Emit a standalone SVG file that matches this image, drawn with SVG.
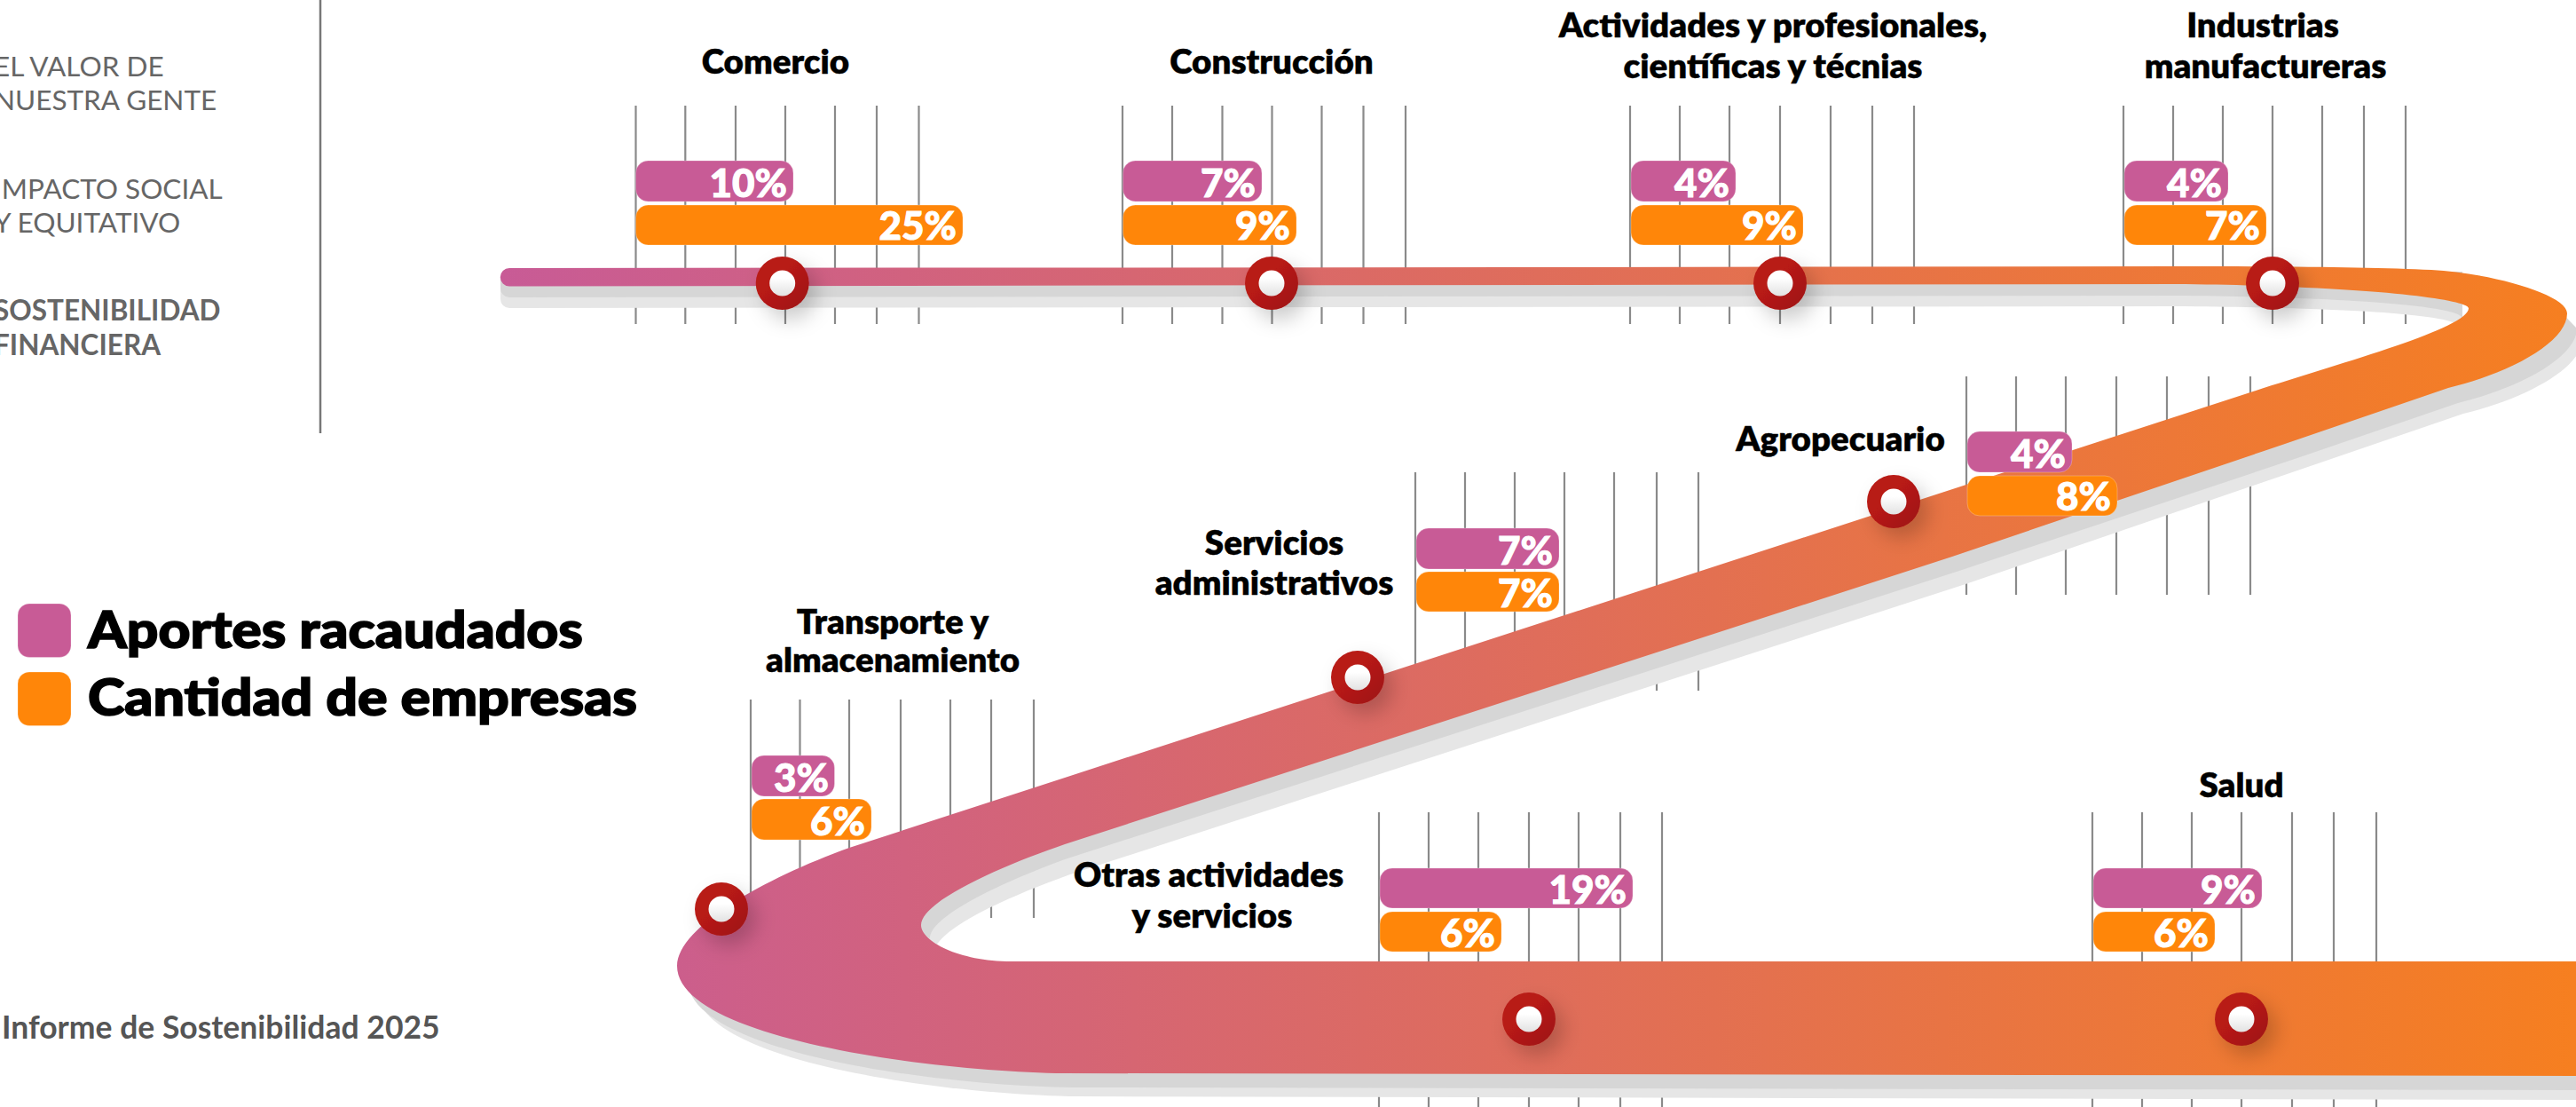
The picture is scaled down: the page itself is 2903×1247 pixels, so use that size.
<svg xmlns="http://www.w3.org/2000/svg" width="2903" height="1247" viewBox="0 0 2903 1247">
<style>
text{font-family:"Lato","Liberation Sans",sans-serif}
.tick{fill:none;stroke:#8a8a8a;stroke-width:2.2}
.p{fill:#c85b96;stroke:#fff;stroke-opacity:.25;stroke-width:1}
.o{fill:#ff8609;stroke:#fff;stroke-opacity:.25;stroke-width:1}
.v{font-size:44px;font-weight:900;fill:#fff;stroke:#fff;stroke-width:1;text-anchor:end}
.t{font-size:38.500px;font-weight:800;fill:#000;stroke:#000;stroke-width:.4;text-anchor:middle}
.s{font-size:31.500px;fill:#666}
.d{fill:#d6d6d6}
.l{fill:#e6e6e6}
.mo{fill:url(#mo);filter:url(#sh)}
.mi{fill:url(#mi)}
.lg{font-size:57px;font-weight:900;fill:#000;stroke:#000;stroke-width:1.6}
</style>
<defs>
<linearGradient id="band" gradientUnits="userSpaceOnUse" x1="564" y1="0" x2="2903" y2="0"><stop offset="0" stop-color="#c85b96"/><stop offset="1" stop-color="#f67f20"/></linearGradient>
<linearGradient id="mo" x1="0" y1="0" x2="1" y2="1"><stop offset=".4" stop-color="#b81a17"/><stop offset="1" stop-color="#9c1512"/></linearGradient>
<linearGradient id="mi" x1="0" y1="0" x2="0" y2="1"><stop offset=".3" stop-color="#fff"/><stop offset="1" stop-color="#e2e2e2"/></linearGradient>
<filter id="sh" x="-60%" y="-60%" width="240%" height="240%"><feDropShadow dx="9" dy="11" stdDeviation="11" flood-color="#000" flood-opacity=".2"/></filter>
</defs>
<rect width="2903" height="1247" fill="#fff"/>
<g id="sidebar">
<path d="M361 0V488" fill="none" stroke="#777" stroke-width="2.5"/>
<text class="s" x="-7" y="86">EL VALOR DE</text>
<text class="s" x="-7" y="124">NUESTRA GENTE</text>
<text class="s" x="-7" y="224">IMPACTO SOCIAL</text>
<text class="s" x="-7" y="262">Y EQUITATIVO</text>
<text class="s" x="-7" y="361" font-weight="700">SOSTENIBILIDAD</text>
<text class="s" x="-7" y="400" font-weight="700">FINANCIERA</text>
</g>
<g id="legend">
<rect x="20" y="680" width="60" height="60.500" rx="13" class="p"/>
<text class="lg" x="99" y="730" textLength="558" lengthAdjust="spacingAndGlyphs">Aportes racaudados</text>
<rect x="20" y="757" width="60" height="60.500" rx="13" class="o"/>
<text class="lg" x="99" y="806" textLength="619" lengthAdjust="spacingAndGlyphs">Cantidad de empresas</text>
</g>
<text id="footer" x="2" y="1170" font-size="35.500" font-weight="700" fill="#555">Informe de Sostenibilidad 2025</text>
<g id="ticks">
<path class="tick" d="M716.500 119V365M772.300 119V365M829 119V365M885 119V365M941 119V365M988 119V365M1035.500 119V365"/>
<path class="tick" d="M1265 119V365M1321 119V365M1377.500 119V365M1433.500 119V365M1489.500 119V365M1536.500 119V365M1584 119V365"/>
<path class="tick" d="M1837 119V365M1893 119V365M1949 119V365M2006 119V365M2063 119V365M2110 119V365M2157 119V365"/>
<path class="tick" d="M2393 119V365M2449 119V365M2505 119V365M2561 119V365M2617 119V365M2664 119V365M2711 119V365"/>
<path class="tick" d="M2216 424V670M2272 424V670M2328 424V670M2385 424V670M2442 424V670M2489 424V670M2536 424V670"/>
<path class="tick" d="M1595 532V778M1651 532V778M1707 532V778M1763 532V778M1819 532V778M1867 532V778M1914 532V778"/>
<path class="tick" d="M846 788V1034M901.500 788V1034M957 788V1034M1015 788V1034M1071 788V1034M1117 788V1034M1165 788V1034"/>
<path class="tick" d="M1554 915V1247M1610 915V1247M1666 915V1247M1723 915V1247M1779 915V1247M1826 915V1247M1873 915V1247"/>
<path class="tick" d="M2358 915V1247M2414 915V1247M2470 915V1247M2526 915V1247M2583 915V1247M2630 915V1247M2678 915V1247"/>
</g>
<g id="connectors">
<path class="l" d="M574 310H2775V370C2772 356 2680 347 2450 345L574 347A10 10 0 0 1 564 337V320A10 10 0 0 1 574 310Z"/>
<path class="l" d="M2880 345L2910 382C2910 414 2847 449 2776 466L2592 529L2215 658L1215 982C1145 1006 1053 1046 1053 1073L1020 1040L1100 960L2800 380Z"/>
<path class="l" d="M790 1110H2903V1239L1215 1235C1065 1233 785 1196 785 1114Z"/>
<path class="d" d="M574 306H2775V358C2772 347 2680 335 2450 333L574 335A10 10 0 0 1 564 325V316A10 10 0 0 1 574 306Z"/>
<path class="d" d="M2880 345L2904 370C2904 402 2841 437 2770 454L2586 517L2211 642L1200 968C1140 990 1048 1030 1048 1057L1020 1040L1100 960L2800 380Z"/>
<path class="d" d="M790 1100H2903V1228L1208 1225C1058 1223 775 1186 775 1104Z"/>
<path id="road" fill="url(#band)" d="M574 302L1700 301L2450 300C2580 300 2680 301 2740 304C2810 308 2893 332 2893 353C2893 385 2830 420 2759 437L2575 500L2200 627L1200 951C1130 975 1038 1015 1038 1042C1038 1060 1080 1083 1140 1083H2903V1212L1200 1209C1050 1207 763 1170 763 1088C763 1045 860 990 957 955L1200 876L2536 442C2640 408 2782 370 2782 347C2782 338 2680 322 2450 320L574 322.500A10 10 0 0 1 574 302Z"/>
</g>
<g id="comercio">
<text class="t" x="874" y="83">Comercio</text>
<rect class="p" x="716.500" y="181" width="177.500" height="46" rx="14"/><rect class="o" x="716.500" y="231" width="368.500" height="45" rx="14"/>
<text class="v" x="887" y="222">10%</text><text class="v" x="1078" y="270">25%</text>
<circle class="mo" cx="881.700" cy="319" r="30"/><circle class="mi" cx="881.700" cy="319" r="14.500"/>
</g>
<g id="construccion">
<text class="t" x="1433" y="83">Construcción</text>
<rect class="p" x="1265.500" y="181" width="156.500" height="46" rx="14"/><rect class="o" x="1265.500" y="231" width="195.500" height="45" rx="14"/>
<text class="v" x="1415" y="222">7%</text><text class="v" x="1454" y="270">9%</text>
<circle class="mo" cx="1433" cy="319" r="30"/><circle class="mi" cx="1433" cy="319" r="14.500"/>
</g>
<g id="actividades">
<text class="t" x="1998" y="42">Actividades y profesionales,</text><text class="t" x="1998" y="88">científicas y técnias</text>
<rect class="p" x="1838" y="181" width="118" height="46" rx="14"/><rect class="o" x="1838" y="231" width="194" height="45" rx="14"/>
<text class="v" x="1949" y="222">4%</text><text class="v" x="2025" y="270">9%</text>
<circle class="mo" cx="2006" cy="319" r="30"/><circle class="mi" cx="2006" cy="319" r="14.500"/>
</g>
<g id="industrias">
<text class="t" x="2550" y="42">Industrias</text><text class="t" x="2553" y="88">manufactureras</text>
<rect class="p" x="2394" y="181" width="117" height="46" rx="14"/><rect class="o" x="2394" y="231" width="160" height="45" rx="14"/>
<text class="v" x="2504" y="222">4%</text><text class="v" x="2547" y="270">7%</text>
<circle class="mo" cx="2561" cy="319" r="30"/><circle class="mi" cx="2561" cy="319" r="14.500"/>
</g>
<g id="agropecuario">
<text class="t" x="2074" y="508">Agropecuario</text>
<rect class="p" x="2217" y="486" width="118" height="46" rx="14"/><rect class="o" x="2217" y="536" width="169" height="45" rx="14"/>
<text class="v" x="2328" y="527">4%</text><text class="v" x="2379" y="575">8%</text>
<circle class="mo" cx="2134" cy="565" r="30"/><circle class="mi" cx="2134" cy="565" r="14.500"/>
</g>
<g id="servicios">
<text class="t" x="1436" y="625">Servicios</text><text class="t" x="1436" y="670">administrativos</text>
<rect class="p" x="1596" y="595" width="161" height="46" rx="14"/><rect class="o" x="1596" y="644" width="161" height="45" rx="14"/>
<text class="v" x="1750" y="636">7%</text><text class="v" x="1750" y="684">7%</text>
<circle class="mo" cx="1530" cy="763" r="30"/><circle class="mi" cx="1530" cy="763" r="14.500"/>
</g>
<g id="transporte">
<text class="t" x="1006" y="714">Transporte y</text><text class="t" x="1006" y="757">almacenamiento</text>
<rect class="p" x="847" y="851" width="93.500" height="46" rx="14"/><rect class="o" x="847" y="900" width="135" height="46" rx="14"/>
<text class="v" x="934" y="892">3%</text><text class="v" x="975" y="941">6%</text>
<circle class="mo" cx="813" cy="1024" r="30"/><circle class="mi" cx="813" cy="1024" r="14.500"/>
</g>
<g id="otras">
<text class="t" x="1362" y="999">Otras actividades</text><text class="t" x="1366" y="1045">y servicios</text>
<rect class="p" x="1555" y="978" width="285" height="45" rx="14"/><rect class="o" x="1555" y="1027" width="137" height="45" rx="14"/>
<text class="v" x="1833" y="1018">19%</text><text class="v" x="1685" y="1067">6%</text>
<circle class="mo" cx="1723" cy="1148" r="30"/><circle class="mi" cx="1723" cy="1148" r="14.500"/>
</g>
<g id="salud">
<text class="t" x="2526" y="898">Salud</text>
<rect class="p" x="2359" y="978" width="190" height="45" rx="14"/><rect class="o" x="2359" y="1027" width="137" height="45" rx="14"/>
<text class="v" x="2542" y="1018">9%</text><text class="v" x="2489" y="1067">6%</text>
<circle class="mo" cx="2526" cy="1148" r="30"/><circle class="mi" cx="2526" cy="1148" r="14.500"/>
</g>
</svg>
